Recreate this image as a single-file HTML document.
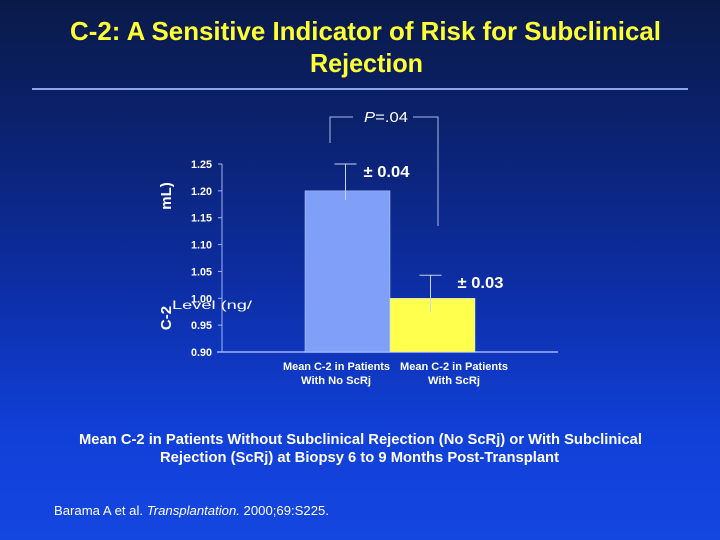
<!DOCTYPE html>
<html><head><meta charset="utf-8">
<style>
html,body{margin:0;padding:0;}
body{width:720px;height:540px;overflow:hidden;background:linear-gradient(180deg,#0a1a48 0%,#0b2270 25%,#0d2fa8 55%,#1140d8 80%,#1446e0 100%);font-family:"Liberation Sans",sans-serif;}
svg{position:absolute;left:0;top:0;}
</style></head>
<body>
<svg id="chart" width="720" height="540">
  <text x="70" y="40" textLength="591" lengthAdjust="spacingAndGlyphs" fill="#ffff33" font-weight="bold" font-size="26">C-2: A Sensitive Indicator of Risk for Subclinical</text>
  <text x="310" y="72" textLength="113" lengthAdjust="spacingAndGlyphs" fill="#ffff33" font-weight="bold" font-size="26">Rejection</text>
  <line x1="32" y1="89" x2="688" y2="89" stroke="#8aa4f0" stroke-width="2"/>
  <g id="plot"></g>
  <text x="79" y="444" textLength="563" lengthAdjust="spacingAndGlyphs" fill="#fff" font-weight="bold" font-size="15">Mean C-2 in Patients Without Subclinical Rejection (No ScRj) or With Subclinical</text>
  <text x="160" y="462" textLength="399" lengthAdjust="spacingAndGlyphs" fill="#fff" font-weight="bold" font-size="15">Rejection (ScRj) at Biopsy 6 to 9 Months Post-Transplant</text>
  <text x="54" y="515" textLength="275" lengthAdjust="spacingAndGlyphs" fill="#fff" font-size="13">Barama A et al. <tspan font-style="italic">Transplantation.</tspan>  2000;69:S225.</text>
</svg>
<script>
const categories = ["Mean C-2 in Patients|With No ScRj", "Mean C-2 in Patients|With ScRj"];
const values = [1.20, 1.00];
const errHigh = [1.25, 1.043];
const errLow = [1.183, 0.975];
const errLabels = ["± 0.04", "± 0.03"];
const tickValues = [0.90, 0.95, 1.00, 1.05, 1.10, 1.15, 1.20, 1.25];
const tickLabels = ["0.90", "0.95", "1.00", "1.05", "1.10", "1.15", "1.20", "1.25"];
const barColors = ["#7f9ff8", "#ffff4d"];

const NS = "http://www.w3.org/2000/svg";
const g = document.getElementById("plot");
const x0 = 222, xEnd = 558, yMin = 0.90, yMax = 1.25, pyBottom = 352, pyTop = 164;
const yScale = v => pyBottom - (v - yMin) / (yMax - yMin) * (pyBottom - pyTop);
const barStart = 305, barW = 85;
const xScale = i => barStart + i * barW;
const labelOffsets = [18, 27];
const catLayout = [[[283, 107], [301, 70]], [[400, 108], [428, 52]]];
function mk(tag, attrs) { const e = document.createElementNS(NS, tag); for (const k in attrs) e.setAttribute(k, attrs[k]); g.appendChild(e); return e; }

let e = mk("line", {x1: x0, y1: pyTop, x2: x0, y2: pyBottom, stroke: "#9fb4f4", "stroke-width": 1});


e = mk("line", {x1: x0 - 5, y1: pyBottom, x2: xEnd, y2: pyBottom, stroke: "#9fb4f4", "stroke-width": 1.5});



tickValues.forEach((v, i) => {
  const y = yScale(v);
  let t = mk("line", {x1: x0 - 4, y1: y, x2: x0, y2: y, stroke: "#9fb4f4"});
  
  
  let l = mk("text", {x: 191, y: y + 4, textLength: 21, lengthAdjust: "spacingAndGlyphs", fill: "#fff", "font-weight": "bold", "font-size": "11"});
  l.textContent = tickLabels[i];
  
  
});

values.forEach((v, i) => {
  const x = xScale(i), y = yScale(v);
  let r = mk("rect", {x: x, y: y, width: barW, height: pyBottom - y, fill: barColors[i], stroke: "#c8d4ff", "stroke-width": 0.5});
  
  
  const cx = x + barW / 2 - 2;
  let eb = mk("line", {x1: cx, y1: yScale(errHigh[i]), x2: cx, y2: yScale(errLow[i]), stroke: "#c8d2f0", "stroke-width": 1});
  
  
  let cap = mk("line", {x1: cx - 11, y1: yScale(errHigh[i]), x2: cx + 11, y2: yScale(errHigh[i]), stroke: "#c8d2f0", "stroke-width": 1});
  
  
  let el = mk("text", {x: cx + labelOffsets[i], y: yScale(errHigh[i]) + 13, textLength: 46, lengthAdjust: "spacingAndGlyphs", fill: "#fff", "font-weight": "bold", "font-size": "16"});
  el.textContent = errLabels[i];
  
  
  categories[i].split("|").forEach((ln, j) => {
    let c = mk("text", {x: catLayout[i][j][0], y: 370 + j * 14, textLength: catLayout[i][j][1], lengthAdjust: "spacingAndGlyphs", fill: "#fff", "font-weight": "bold", "font-size": "11"});
    c.textContent = ln;
    
    
  });
});

// significance bracket
let br = mk("polyline", {points: "330,143 330,117 353,117", fill: "none", stroke: "#a8b8e8", "stroke-width": 1});


br = mk("polyline", {points: "413,117 438,117 438,226", fill: "none", stroke: "#a8b8e8", "stroke-width": 1});


let pv = mk("text", {x: 364, y: 122, textLength: 44, lengthAdjust: "spacingAndGlyphs", fill: "#fff", "font-size": "15"});
pv.innerHTML = '<tspan font-style="italic">P</tspan>=.04';



// y-axis title (garbled in reference)
let yt = mk("text", {x: 0, y: 0, transform: "translate(171,196) rotate(-90)", "text-anchor": "middle", fill: "#fff", "font-weight": "bold", "font-size": "15"});
yt.textContent = "mL)";


yt = mk("text", {x: 0, y: 0, transform: "translate(171,318) rotate(-90)", "text-anchor": "middle", fill: "#fff", "font-weight": "bold", "font-size": "15"});
yt.textContent = "C-2";


yt = mk("text", {x: 172, y: 309, textLength: 80, lengthAdjust: "spacingAndGlyphs", fill: "#fff", "font-size": "12"});
yt.textContent = "Level (ng/";


</script>
</body></html>
